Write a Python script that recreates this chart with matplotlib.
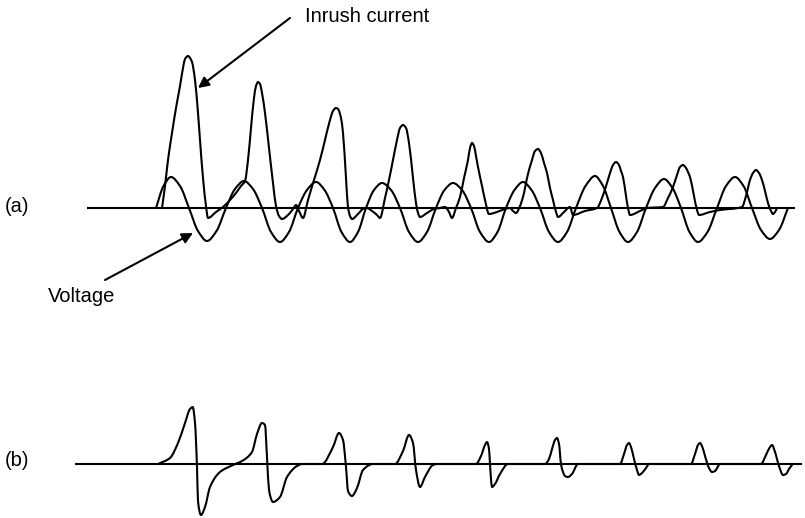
import matplotlib
matplotlib.use("Agg")
import matplotlib.pyplot as plt
from matplotlib.path import Path
from matplotlib.patches import PathPatch
import numpy as np

plt.rcParams['font.family'] = ['Liberation Sans', 'DejaVu Sans']

# ---------------- data (time axis in drawing units, amplitude relative to zero line) ----
axis_a = [87, 795]
axis_b = [75, 802]

volt_a_x = [156, 163.5, 171, 180, 189, 198, 207, 216.5, 226, 235, 244, 253, 262, 271, 280, 289,
            298, 307, 316, 324.5, 333, 341.5, 350, 358, 366, 374, 382, 391, 400, 409, 418, 427,
            436, 444.5, 453, 462, 471, 480, 489, 497.5, 506, 514.5, 523, 531.5, 540, 549, 558, 567,
            576, 585.5, 595, 603, 611, 619.5, 628, 637, 646, 655, 664, 672.5, 681, 689.5, 698,
            707.5, 717, 726, 735, 743.5, 752, 761, 770, 779, 788]
volt_a_y = [0, 22, 31, 22, 0, -23, -33, -23, 0, 19, 27, 19, 0, -24, -34, -24,
            0, 18, 26, 18, 0, -24, -34, -24, 0, 18, 25, 18, 0, -24, -34, -24,
            0, 18, 25, 18, 0, -24, -34, -24, 0, 18, 26, 18, 0, -24, -34, -24,
            0, 22, 32, 22, 0, -24, -34, -24, 0, 20, 29, 20, 0, -24, -34,
            -24, 0, 22, 31, 22, 0, -22, -31, -22, 0]

curr_a_x = [162, 165, 168, 172, 176, 180, 183, 185, 188, 190, 192, 195, 198, 200, 203, 206, 208,
            216, 223, 230, 236, 241, 245,
            248, 251, 254, 256, 258, 260, 262, 265, 269, 273, 276, 279, 282,
            288, 293, 296, 299, 303,
            308, 314, 320, 325, 330, 333, 336, 338, 341, 343, 346, 348, 350, 352,
            358, 363, 367, 372, 377, 380,
            385, 389, 393, 397, 400, 403, 406, 409, 413, 416, 418, 420,
            427, 434, 440, 445, 449, 452,
            456, 460, 464, 468, 470, 472, 474, 476, 478, 482, 485, 489,
            497, 505, 510, 513, 516,
            520, 524, 527, 532, 535, 538, 541, 544, 547, 550, 553, 556, 558,
            564, 570, 573, 585, 597,
            602, 607, 611, 613, 616, 619, 621, 623, 626, 628, 630,
            640, 647, 663,
            668, 673, 677, 680, 683, 686, 688, 690, 694, 697, 699,
            710, 720, 742,
            746, 750, 753, 756, 759, 762, 765, 768, 771, 773, 775, 777]
curr_a_y = [0, 22, 48, 75, 100, 122, 140, 149, 152, 150, 146, 128, 95, 68, 30, 2, -10,
            -4, 1, 8, 15, 22, 27,
            48, 80, 110, 122, 126, 124, 115, 95, 60, 25, 2, -8, -11,
            -7, -1, 3, -3, -10,
            8, 28, 48, 68, 88, 97, 100, 99, 90, 75, 30, 1, -8, -11,
            -6, -1, 0, -3, -7, -10,
            10, 28, 48, 68, 80, 83, 80, 65, 30, 5, -5, -9,
            -5, -1, 0, 1, -4, -10,
            0, 11, 30, 48, 60, 65, 62, 52, 41, 22, 8, -6,
            -4, -1, 0, -3, -5,
            2, 15, 30, 48, 57, 59, 55, 45, 35, 20, 8, -4, -9,
            -4, 1, -7, -3, 0,
            10, 25, 38, 43, 46, 43, 37, 31, 12, 0, -7,
            -3, 0, 1,
            10, 21, 33, 41, 43, 40, 36, 31, 12, -2, -7,
            -4, -2, 1,
            12, 28, 35, 38, 35, 28, 17, 5, -3, -6, -4, 0]

curr_b_x = [158, 170, 178, 185, 190, 192.7, 195, 197, 198, 201, 205, 210, 220, 233,
            242, 252, 257, 262, 265, 267, 269, 273, 280, 287, 297, 302,
            322, 333, 339, 343, 346, 348, 352, 357, 363, 373,
            395, 403, 409, 413, 416, 420, 425, 433, 437,
            476, 481, 485, 487, 489, 490, 491, 492, 495, 500, 508,
            545, 549, 552, 555, 557, 559, 561, 563, 565, 568, 572, 578,
            620, 624, 627, 629, 631, 634, 637, 639, 642, 646, 649,
            691, 695, 698, 700, 702, 705, 709, 712, 715, 720,
            761, 766, 770, 772, 775, 779, 783, 786, 789, 792]
curr_b_y = [0, 6, 21, 41, 55, 57, 41, -3, -37, -51, -43, -23, -8, -1,
            3, 12, 30, 41, 39, 7, -26, -38, -33, -13, -2, 0,
            0, 17, 31, 24, -3, -27, -32, -24, -6, 0,
            0, 13, 29, 21, -6, -23, -13, -1, 0,
            0, 8, 19, 22, 15, 0, -15, -23, -20, -10, 0,
            0, 5, 15, 24, 26, 20, 0, -8, -12, -13, -10, 0,
            0, 10, 19, 21, 17, 5, -6, -11, -9, -4, 0,
            0, 10, 19, 21, 18, 8, -4, -8, -7, 0,
            0, 9, 17, 19, 12, -2, -11, -10, -5, -1]


def smooth_path(xs, ys):
    """Shape-preserving cubic path through the read points, drawn as Bezier segments."""
    x = np.asarray(xs, float)
    y = np.asarray(ys, float)
    n = len(x)
    h = np.diff(x)
    d = np.diff(y) / h
    m = np.zeros(n)
    m[0], m[-1] = d[0], d[-1]
    for i in range(1, n - 1):
        if d[i - 1] * d[i] > 0:
            w1 = 2 * h[i] + h[i - 1]
            w2 = h[i] + 2 * h[i - 1]
            m[i] = (w1 + w2) / (w1 / d[i - 1] + w2 / d[i])
    verts = [(x[0], y[0])]
    codes = [Path.MOVETO]
    for i in range(n - 1):
        verts += [(x[i] + h[i] / 3, y[i] + m[i] * h[i] / 3),
                  (x[i + 1] - h[i] / 3, y[i + 1] - m[i + 1] * h[i] / 3),
                  (x[i + 1], y[i + 1])]
        codes += [Path.CURVE4] * 3
    return Path(verts, codes)


W, H = 805, 518
fig = plt.figure(figsize=(W / 100, H / 100), dpi=100)
fig.patch.set_facecolor('white')

# panel (a): top 300 px, zero line 208 px from top
ax_a = fig.add_axes([0, (H - 300) / H, 1, 300 / H])
ax_a.set_xlim(0, W)
ax_a.set_ylim(-92, 208)
# panel (b): bottom 218 px, zero line 464 px from top
ax_b = fig.add_axes([0, 0, 1, 218 / H])
ax_b.set_xlim(0, W)
ax_b.set_ylim(-54, 164)
for ax in (ax_a, ax_b):
    ax.axis('off')

LW = 1.5
ax_a.plot(axis_a, [0, 0], color='black', lw=LW, solid_capstyle='butt')
ax_b.plot(axis_b, [0, 0], color='black', lw=LW, solid_capstyle='butt')

for ax, xs, ys in ((ax_a, volt_a_x, volt_a_y), (ax_a, curr_a_x, curr_a_y), (ax_b, curr_b_x, curr_b_y)):
    ax.add_patch(PathPatch(smooth_path(xs, ys), fill=False, edgecolor='black', lw=LW,
                           joinstyle='round', capstyle='round'))

FS = 14.5
ax_a.text(5, 2, "(a)", fontsize=FS, ha='left', va='center')
ax_b.text(5, 4, "(b)", fontsize=FS, ha='left', va='center')

ax_a.annotate("", xy=(198, 120), xytext=(290, 190),
              arrowprops=dict(arrowstyle='-|>', color='black', lw=1.5, mutation_scale=16,
                              shrinkA=0, shrinkB=0))
ax_a.text(305, 192, "Inrush current", fontsize=FS, ha='left', va='center')

ax_a.annotate("", xy=(193, -25), xytext=(105, -72),
              arrowprops=dict(arrowstyle='-|>', color='black', lw=1.5, mutation_scale=16,
                              shrinkA=0, shrinkB=0))
ax_a.text(48, -89, "Voltage", fontsize=FS, ha='left', va='center')

fig.savefig("out.png", dpi=100, facecolor='white')
